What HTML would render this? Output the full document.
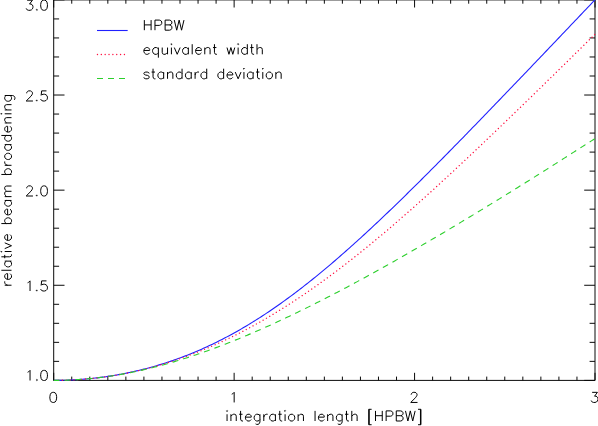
<!DOCTYPE html>
<html><head><meta charset="utf-8"><title>relative beam broadening</title>
<style>
html,body{margin:0;padding:0;background:#fff;font-family:"Liberation Sans",sans-serif;}
body{width:598px;height:426px;overflow:hidden;position:relative}
</style></head><body>
<svg width="598" height="426" viewBox="0 0 598 426" style="position:absolute;left:0;top:0;display:block">
<rect width="598" height="426" fill="#fff"/>
<path d="M53.7 -0.1 H595.0 V380.4 H53.7 Z M53.70 380.4 v-7.6 M53.70 -0.1 v7.6 M71.74 380.4 v-3.8 M71.74 -0.1 v3.8 M89.79 380.4 v-3.8 M89.79 -0.1 v3.8 M107.83 380.4 v-3.8 M107.83 -0.1 v3.8 M125.87 380.4 v-3.8 M125.87 -0.1 v3.8 M143.92 380.4 v-3.8 M143.92 -0.1 v3.8 M161.96 380.4 v-3.8 M161.96 -0.1 v3.8 M180.00 380.4 v-3.8 M180.00 -0.1 v3.8 M198.05 380.4 v-3.8 M198.05 -0.1 v3.8 M216.09 380.4 v-3.8 M216.09 -0.1 v3.8 M234.13 380.4 v-7.6 M234.13 -0.1 v7.6 M252.18 380.4 v-3.8 M252.18 -0.1 v3.8 M270.22 380.4 v-3.8 M270.22 -0.1 v3.8 M288.26 380.4 v-3.8 M288.26 -0.1 v3.8 M306.31 380.4 v-3.8 M306.31 -0.1 v3.8 M324.35 380.4 v-3.8 M324.35 -0.1 v3.8 M342.39 380.4 v-3.8 M342.39 -0.1 v3.8 M360.44 380.4 v-3.8 M360.44 -0.1 v3.8 M378.48 380.4 v-3.8 M378.48 -0.1 v3.8 M396.52 380.4 v-3.8 M396.52 -0.1 v3.8 M414.57 380.4 v-7.6 M414.57 -0.1 v7.6 M432.61 380.4 v-3.8 M432.61 -0.1 v3.8 M450.65 380.4 v-3.8 M450.65 -0.1 v3.8 M468.70 380.4 v-3.8 M468.70 -0.1 v3.8 M486.74 380.4 v-3.8 M486.74 -0.1 v3.8 M504.78 380.4 v-3.8 M504.78 -0.1 v3.8 M522.83 380.4 v-3.8 M522.83 -0.1 v3.8 M540.87 380.4 v-3.8 M540.87 -0.1 v3.8 M558.91 380.4 v-3.8 M558.91 -0.1 v3.8 M576.96 380.4 v-3.8 M576.96 -0.1 v3.8 M595.00 380.4 v-7.6 M595.00 -0.1 v7.6 M53.7 380.40 h10.8 M595.0 380.40 h-10.8 M53.7 361.37 h5.4 M595.0 361.37 h-5.4 M53.7 342.35 h5.4 M595.0 342.35 h-5.4 M53.7 323.32 h5.4 M595.0 323.32 h-5.4 M53.7 304.30 h5.4 M595.0 304.30 h-5.4 M53.7 285.27 h10.8 M595.0 285.27 h-10.8 M53.7 266.25 h5.4 M595.0 266.25 h-5.4 M53.7 247.22 h5.4 M595.0 247.22 h-5.4 M53.7 228.20 h5.4 M595.0 228.20 h-5.4 M53.7 209.17 h5.4 M595.0 209.17 h-5.4 M53.7 190.15 h10.8 M595.0 190.15 h-10.8 M53.7 171.12 h5.4 M595.0 171.12 h-5.4 M53.7 152.10 h5.4 M595.0 152.10 h-5.4 M53.7 133.08 h5.4 M595.0 133.08 h-5.4 M53.7 114.05 h5.4 M595.0 114.05 h-5.4 M53.7 95.02 h10.8 M595.0 95.02 h-10.8 M53.7 76.00 h5.4 M595.0 76.00 h-5.4 M53.7 56.97 h5.4 M595.0 56.97 h-5.4 M53.7 37.95 h5.4 M595.0 37.95 h-5.4 M53.7 18.93 h5.4 M595.0 18.93 h-5.4 M53.7 -0.10 h10.8 M595.0 -0.10 h-10.8" fill="none" stroke="#0a0a0a" stroke-width="1.0" stroke-linecap="butt" stroke-linejoin="miter"/>
<clipPath id="c"><rect x="53.7" y="-1.1" width="541.9" height="382.1"/></clipPath>
<g fill="none" clip-path="url(#c)">
<path d="M53.70 380.40 L55.50 380.40 L57.31 380.38 L59.11 380.36 L60.92 380.33 L62.72 380.29 L64.53 380.24 L66.33 380.18 L68.13 380.12 L69.94 380.04 L71.74 379.96 L73.55 379.87 L75.35 379.77 L77.16 379.66 L78.96 379.54 L80.77 379.41 L82.57 379.27 L84.37 379.13 L86.18 378.97 L87.98 378.81 L89.79 378.63 L91.59 378.45 L93.40 378.26 L95.20 378.06 L97.00 377.85 L98.81 377.64 L100.61 377.41 L102.42 377.17 L104.22 376.93 L106.03 376.67 L107.83 376.41 L109.63 376.14 L111.44 375.85 L113.24 375.56 L115.05 375.26 L116.85 374.95 L118.66 374.63 L120.46 374.30 L122.26 373.97 L124.07 373.62 L125.87 373.26 L127.68 372.89 L129.48 372.52 L131.29 372.13 L133.09 371.73 L134.89 371.33 L136.70 370.91 L138.50 370.49 L140.31 370.05 L142.11 369.61 L143.92 369.15 L145.72 368.69 L147.53 368.21 L149.33 367.73 L151.13 367.23 L152.94 366.73 L154.74 366.21 L156.55 365.69 L158.35 365.15 L160.16 364.61 L161.96 364.05 L163.76 363.49 L165.57 362.91 L167.37 362.32 L169.18 361.72 L170.98 361.12 L172.79 360.50 L174.59 359.87 L176.39 359.23 L178.20 358.58 L180.00 357.92 L181.81 357.25 L183.61 356.56 L185.42 355.87 L187.22 355.16 L189.02 354.45 L190.83 353.72 L192.63 352.99 L194.44 352.24 L196.24 351.48 L198.05 350.71 L199.85 349.93 L201.66 349.14 L203.46 348.33 L205.26 347.52 L207.07 346.69 L208.87 345.85 L210.68 345.01 L212.48 344.15 L214.29 343.28 L216.09 342.40 L217.89 341.50 L219.70 340.60 L221.50 339.68 L223.31 338.76 L225.11 337.82 L226.92 336.87 L228.72 335.91 L230.52 334.94 L232.33 333.95 L234.13 332.96 L235.94 331.95 L237.74 330.93 L239.55 329.91 L241.35 328.87 L243.16 327.82 L244.96 326.75 L246.76 325.68 L248.57 324.60 L250.37 323.50 L252.18 322.39 L253.98 321.28 L255.79 320.15 L257.59 319.01 L259.39 317.86 L261.20 316.70 L263.00 315.52 L264.81 314.34 L266.61 313.15 L268.42 311.94 L270.22 310.72 L272.02 309.50 L273.83 308.26 L275.63 307.01 L277.44 305.76 L279.24 304.49 L281.05 303.21 L282.85 301.92 L284.65 300.62 L286.46 299.31 L288.26 297.99 L290.07 296.67 L291.87 295.33 L293.68 293.98 L295.48 292.62 L297.29 291.25 L299.09 289.87 L300.89 288.49 L302.70 287.09 L304.50 285.69 L306.31 284.27 L308.11 282.85 L309.92 281.41 L311.72 279.97 L313.52 278.52 L315.33 277.06 L317.13 275.59 L318.94 274.12 L320.74 272.63 L322.55 271.14 L324.35 269.64 L326.15 268.13 L327.96 266.61 L329.76 265.09 L331.57 263.55 L333.37 262.01 L335.18 260.46 L336.98 258.91 L338.78 257.34 L340.59 255.77 L342.39 254.20 L344.20 252.61 L346.00 251.02 L347.81 249.42 L349.61 247.82 L351.41 246.21 L353.22 244.59 L355.02 242.96 L356.83 241.33 L358.63 239.69 L360.44 238.05 L362.24 236.40 L364.05 234.75 L365.85 233.08 L367.65 231.42 L369.46 229.75 L371.26 228.07 L373.07 226.38 L374.87 224.70 L376.68 223.00 L378.48 221.30 L380.28 219.60 L382.09 217.89 L383.89 216.18 L385.70 214.46 L387.50 212.74 L389.31 211.01 L391.11 209.28 L392.91 207.54 L394.72 205.80 L396.52 204.06 L398.33 202.31 L400.13 200.55 L401.94 198.80 L403.74 197.04 L405.54 195.27 L407.35 193.50 L409.15 191.73 L410.96 189.96 L412.76 188.18 L414.57 186.40 L416.37 184.61 L418.18 182.82 L419.98 181.03 L421.78 179.24 L423.59 177.44 L425.39 175.64 L427.20 173.84 L429.00 172.03 L430.81 170.22 L432.61 168.41 L434.41 166.59 L436.22 164.78 L438.02 162.96 L439.83 161.14 L441.63 159.31 L443.44 157.49 L445.24 155.66 L447.04 153.83 L448.85 151.99 L450.65 150.16 L452.46 148.32 L454.26 146.48 L456.07 144.64 L457.87 142.80 L459.67 140.95 L461.48 139.11 L463.28 137.26 L465.09 135.41 L466.89 133.56 L468.70 131.70 L470.50 129.85 L472.31 127.99 L474.11 126.14 L475.91 124.28 L477.72 122.42 L479.52 120.55 L481.33 118.69 L483.13 116.83 L484.94 114.96 L486.74 113.09 L488.54 111.23 L490.35 109.36 L492.15 107.49 L493.96 105.62 L495.76 103.74 L497.57 101.87 L499.37 100.00 L501.17 98.12 L502.98 96.24 L504.78 94.37 L506.59 92.49 L508.39 90.61 L510.20 88.73 L512.00 86.85 L513.81 84.97 L515.61 83.09 L517.41 81.21 L519.22 79.32 L521.02 77.44 L522.83 75.55 L524.63 73.67 L526.44 71.78 L528.24 69.90 L530.04 68.01 L531.85 66.12 L533.65 64.23 L535.46 62.34 L537.26 60.46 L539.07 58.57 L540.87 56.68 L542.67 54.79 L544.48 52.89 L546.28 51.00 L548.09 49.11 L549.89 47.22 L551.70 45.33 L553.50 43.43 L555.30 41.54 L557.11 39.65 L558.91 37.75 L560.72 35.86 L562.52 33.96 L564.33 32.07 L566.13 30.17 L567.94 28.28 L569.74 26.38 L571.54 24.49 L573.35 22.59 L575.15 20.69 L576.96 18.80 L578.76 16.90 L580.57 15.00 L582.37 13.10 L584.17 11.21 L585.98 9.31 L587.78 7.41 L589.59 5.51 L591.39 3.61 L593.20 1.72 L595.00 -0.18" stroke="#2020ff" stroke-width="1.1"/>
<path d="M53.70 380.40 L55.50 380.40 L57.31 380.38 L59.11 380.36 L60.92 380.33 L62.72 380.29 L64.53 380.24 L66.33 380.18 L68.13 380.12 L69.94 380.04 L71.74 379.96 L73.55 379.87 L75.35 379.77 L77.16 379.66 L78.96 379.54 L80.77 379.41 L82.57 379.27 L84.37 379.13 L86.18 378.97 L87.98 378.81 L89.79 378.64 L91.59 378.46 L93.40 378.27 L95.20 378.07 L97.00 377.86 L98.81 377.65 L100.61 377.42 L102.42 377.19 L104.22 376.95 L106.03 376.70 L107.83 376.44 L109.63 376.17 L111.44 375.89 L113.24 375.60 L115.05 375.31 L116.85 375.00 L118.66 374.69 L120.46 374.36 L122.26 374.03 L124.07 373.69 L125.87 373.34 L127.68 372.98 L129.48 372.62 L131.29 372.24 L133.09 371.85 L134.89 371.46 L136.70 371.06 L138.50 370.64 L140.31 370.22 L142.11 369.79 L143.92 369.35 L145.72 368.90 L147.53 368.45 L149.33 367.98 L151.13 367.50 L152.94 367.02 L154.74 366.53 L156.55 366.02 L158.35 365.51 L160.16 364.99 L161.96 364.46 L163.76 363.92 L165.57 363.37 L167.37 362.82 L169.18 362.25 L170.98 361.67 L172.79 361.09 L174.59 360.50 L176.39 359.89 L178.20 359.28 L180.00 358.66 L181.81 358.03 L183.61 357.39 L185.42 356.74 L187.22 356.08 L189.02 355.42 L190.83 354.74 L192.63 354.06 L194.44 353.36 L196.24 352.66 L198.05 351.95 L199.85 351.22 L201.66 350.49 L203.46 349.75 L205.26 349.00 L207.07 348.25 L208.87 347.48 L210.68 346.70 L212.48 345.92 L214.29 345.12 L216.09 344.32 L217.89 343.51 L219.70 342.68 L221.50 341.85 L223.31 341.01 L225.11 340.16 L226.92 339.30 L228.72 338.44 L230.52 337.56 L232.33 336.68 L234.13 335.78 L235.94 334.88 L237.74 333.97 L239.55 333.04 L241.35 332.11 L243.16 331.17 L244.96 330.23 L246.76 329.27 L248.57 328.30 L250.37 327.33 L252.18 326.34 L253.98 325.35 L255.79 324.35 L257.59 323.34 L259.39 322.32 L261.20 321.29 L263.00 320.26 L264.81 319.21 L266.61 318.16 L268.42 317.10 L270.22 316.03 L272.02 314.95 L273.83 313.86 L275.63 312.76 L277.44 311.66 L279.24 310.54 L281.05 309.42 L282.85 308.29 L284.65 307.15 L286.46 306.01 L288.26 304.85 L290.07 303.69 L291.87 302.52 L293.68 301.34 L295.48 300.15 L297.29 298.95 L299.09 297.75 L300.89 296.54 L302.70 295.32 L304.50 294.09 L306.31 292.85 L308.11 291.61 L309.92 290.36 L311.72 289.10 L313.52 287.83 L315.33 286.56 L317.13 285.28 L318.94 283.99 L320.74 282.69 L322.55 281.39 L324.35 280.07 L326.15 278.76 L327.96 277.43 L329.76 276.10 L331.57 274.76 L333.37 273.41 L335.18 272.05 L336.98 270.69 L338.78 269.32 L340.59 267.95 L342.39 266.57 L344.20 265.18 L346.00 263.78 L347.81 262.38 L349.61 260.97 L351.41 259.56 L353.22 258.14 L355.02 256.71 L356.83 255.27 L358.63 253.83 L360.44 252.39 L362.24 250.93 L364.05 249.47 L365.85 248.01 L367.65 246.54 L369.46 245.06 L371.26 243.58 L373.07 242.09 L374.87 240.60 L376.68 239.10 L378.48 237.60 L380.28 236.09 L382.09 234.57 L383.89 233.05 L385.70 231.52 L387.50 229.99 L389.31 228.45 L391.11 226.91 L392.91 225.37 L394.72 223.82 L396.52 222.26 L398.33 220.70 L400.13 219.13 L401.94 217.56 L403.74 215.99 L405.54 214.41 L407.35 212.82 L409.15 211.24 L410.96 209.64 L412.76 208.05 L414.57 206.44 L416.37 204.84 L418.18 203.23 L419.98 201.62 L421.78 200.00 L423.59 198.38 L425.39 196.75 L427.20 195.13 L429.00 193.49 L430.81 191.86 L432.61 190.22 L434.41 188.57 L436.22 186.93 L438.02 185.28 L439.83 183.63 L441.63 181.97 L443.44 180.31 L445.24 178.65 L447.04 176.98 L448.85 175.31 L450.65 173.64 L452.46 171.97 L454.26 170.29 L456.07 168.61 L457.87 166.93 L459.67 165.24 L461.48 163.55 L463.28 161.86 L465.09 160.17 L466.89 158.47 L468.70 156.77 L470.50 155.07 L472.31 153.37 L474.11 151.67 L475.91 149.96 L477.72 148.25 L479.52 146.54 L481.33 144.82 L483.13 143.11 L484.94 141.39 L486.74 139.67 L488.54 137.95 L490.35 136.23 L492.15 134.50 L493.96 132.77 L495.76 131.04 L497.57 129.31 L499.37 127.58 L501.17 125.85 L502.98 124.11 L504.78 122.38 L506.59 120.64 L508.39 118.90 L510.20 117.16 L512.00 115.41 L513.81 113.67 L515.61 111.92 L517.41 110.18 L519.22 108.43 L521.02 106.68 L522.83 104.93 L524.63 103.18 L526.44 101.43 L528.24 99.67 L530.04 97.92 L531.85 96.16 L533.65 94.41 L535.46 92.65 L537.26 90.89 L539.07 89.13 L540.87 87.37 L542.67 85.61 L544.48 83.85 L546.28 82.08 L548.09 80.32 L549.89 78.56 L551.70 76.79 L553.50 75.02 L555.30 73.26 L557.11 71.49 L558.91 69.72 L560.72 67.95 L562.52 66.18 L564.33 64.41 L566.13 62.64 L567.94 60.87 L569.74 59.10 L571.54 57.33 L573.35 55.55 L575.15 53.78 L576.96 52.01 L578.76 50.23 L580.57 48.46 L582.37 46.68 L584.17 44.91 L585.98 43.13 L587.78 41.35 L589.59 39.58 L591.39 37.80 L593.20 36.02 L595.00 34.25" stroke="#ff1040" stroke-width="1.35" stroke-dasharray="0.05 3.8" stroke-linecap="round" stroke-dashoffset="-1.0"/>
<path d="M53.70 380.40 L55.50 380.40 L57.31 380.38 L59.11 380.36 L60.92 380.33 L62.72 380.29 L64.53 380.24 L66.33 380.18 L68.13 380.12 L69.94 380.04 L71.74 379.96 L73.55 379.87 L75.35 379.77 L77.16 379.66 L78.96 379.54 L80.77 379.41 L82.57 379.28 L84.37 379.13 L86.18 378.98 L87.98 378.82 L89.79 378.65 L91.59 378.47 L93.40 378.28 L95.20 378.09 L97.00 377.88 L98.81 377.67 L100.61 377.45 L102.42 377.22 L104.22 376.98 L106.03 376.74 L107.83 376.48 L109.63 376.22 L111.44 375.95 L113.24 375.67 L115.05 375.38 L116.85 375.09 L118.66 374.79 L120.46 374.47 L122.26 374.16 L124.07 373.83 L125.87 373.49 L127.68 373.15 L129.48 372.80 L131.29 372.44 L133.09 372.07 L134.89 371.70 L136.70 371.32 L138.50 370.93 L140.31 370.53 L142.11 370.12 L143.92 369.71 L145.72 369.29 L147.53 368.86 L149.33 368.43 L151.13 367.99 L152.94 367.54 L154.74 367.08 L156.55 366.62 L158.35 366.15 L160.16 365.67 L161.96 365.18 L163.76 364.69 L165.57 364.19 L167.37 363.69 L169.18 363.17 L170.98 362.66 L172.79 362.13 L174.59 361.60 L176.39 361.06 L178.20 360.51 L180.00 359.96 L181.81 359.40 L183.61 358.83 L185.42 358.26 L187.22 357.69 L189.02 357.10 L190.83 356.51 L192.63 355.91 L194.44 355.31 L196.24 354.70 L198.05 354.09 L199.85 353.47 L201.66 352.84 L203.46 352.21 L205.26 351.57 L207.07 350.92 L208.87 350.27 L210.68 349.62 L212.48 348.96 L214.29 348.29 L216.09 347.62 L217.89 346.94 L219.70 346.26 L221.50 345.57 L223.31 344.88 L225.11 344.18 L226.92 343.47 L228.72 342.76 L230.52 342.05 L232.33 341.33 L234.13 340.60 L235.94 339.88 L237.74 339.14 L239.55 338.40 L241.35 337.66 L243.16 336.91 L244.96 336.15 L246.76 335.40 L248.57 334.63 L250.37 333.87 L252.18 333.09 L253.98 332.32 L255.79 331.54 L257.59 330.75 L259.39 329.96 L261.20 329.17 L263.00 328.37 L264.81 327.56 L266.61 326.76 L268.42 325.95 L270.22 325.13 L272.02 324.31 L273.83 323.49 L275.63 322.66 L277.44 321.83 L279.24 320.99 L281.05 320.15 L282.85 319.31 L284.65 318.46 L286.46 317.61 L288.26 316.76 L290.07 315.90 L291.87 315.04 L293.68 314.17 L295.48 313.30 L297.29 312.43 L299.09 311.55 L300.89 310.67 L302.70 309.79 L304.50 308.90 L306.31 308.01 L308.11 307.12 L309.92 306.22 L311.72 305.32 L313.52 304.42 L315.33 303.52 L317.13 302.61 L318.94 301.69 L320.74 300.78 L322.55 299.86 L324.35 298.94 L326.15 298.01 L327.96 297.08 L329.76 296.15 L331.57 295.22 L333.37 294.28 L335.18 293.34 L336.98 292.40 L338.78 291.46 L340.59 290.51 L342.39 289.56 L344.20 288.60 L346.00 287.65 L347.81 286.69 L349.61 285.73 L351.41 284.76 L353.22 283.80 L355.02 282.83 L356.83 281.86 L358.63 280.88 L360.44 279.91 L362.24 278.93 L364.05 277.94 L365.85 276.96 L367.65 275.97 L369.46 274.99 L371.26 273.99 L373.07 273.00 L374.87 272.01 L376.68 271.01 L378.48 270.01 L380.28 269.00 L382.09 268.00 L383.89 266.99 L385.70 265.98 L387.50 264.97 L389.31 263.96 L391.11 262.94 L392.91 261.93 L394.72 260.91 L396.52 259.89 L398.33 258.86 L400.13 257.84 L401.94 256.81 L403.74 255.78 L405.54 254.75 L407.35 253.71 L409.15 252.68 L410.96 251.64 L412.76 250.60 L414.57 249.56 L416.37 248.52 L418.18 247.47 L419.98 246.43 L421.78 245.38 L423.59 244.33 L425.39 243.28 L427.20 242.23 L429.00 241.17 L430.81 240.11 L432.61 239.05 L434.41 237.99 L436.22 236.93 L438.02 235.87 L439.83 234.80 L441.63 233.74 L443.44 232.67 L445.24 231.60 L447.04 230.53 L448.85 229.46 L450.65 228.38 L452.46 227.31 L454.26 226.23 L456.07 225.15 L457.87 224.07 L459.67 222.99 L461.48 221.90 L463.28 220.82 L465.09 219.73 L466.89 218.65 L468.70 217.56 L470.50 216.47 L472.31 215.38 L474.11 214.28 L475.91 213.19 L477.72 212.09 L479.52 211.00 L481.33 209.90 L483.13 208.80 L484.94 207.70 L486.74 206.60 L488.54 205.49 L490.35 204.39 L492.15 203.28 L493.96 202.18 L495.76 201.07 L497.57 199.96 L499.37 198.85 L501.17 197.74 L502.98 196.62 L504.78 195.51 L506.59 194.39 L508.39 193.28 L510.20 192.16 L512.00 191.04 L513.81 189.92 L515.61 188.80 L517.41 187.68 L519.22 186.56 L521.02 185.43 L522.83 184.31 L524.63 183.18 L526.44 182.05 L528.24 180.93 L530.04 179.80 L531.85 178.67 L533.65 177.54 L535.46 176.40 L537.26 175.27 L539.07 174.14 L540.87 173.00 L542.67 171.86 L544.48 170.73 L546.28 169.59 L548.09 168.45 L549.89 167.31 L551.70 166.17 L553.50 165.03 L555.30 163.89 L557.11 162.74 L558.91 161.60 L560.72 160.45 L562.52 159.31 L564.33 158.16 L566.13 157.01 L567.94 155.86 L569.74 154.71 L571.54 153.56 L573.35 152.41 L575.15 151.26 L576.96 150.11 L578.76 148.95 L580.57 147.80 L582.37 146.64 L584.17 145.49 L585.98 144.33 L587.78 143.17 L589.59 142.01 L591.39 140.85 L593.20 139.69 L595.00 138.53" stroke="#2ccf2c" stroke-width="1.1" stroke-dasharray="6 5" stroke-dashoffset="0.25"/>
</g>
<path d="M97.00 30.5 H127.68" stroke="#2020ff" stroke-width="1.1" fill="none"/>
<path d="M97.45 54.5 H127.68" stroke="#ff1040" stroke-width="1.35" stroke-dasharray="0.05 3.8" stroke-linecap="round" fill="none"/>
<path d="M97.00 78.5 H127.68" stroke="#2ccf2c" stroke-width="1.1" stroke-dasharray="6 5" fill="none"/>
<path d="M144.33 20.09 L144.33 30.20 M151.10 20.09 L151.10 30.20 M144.33 24.90 L151.10 24.90 M154.97 20.09 L154.97 30.20 M154.97 20.09 L159.32 20.09 L160.77 20.57 L161.26 21.05 L161.74 22.01 L161.74 23.46 L161.26 24.42 L160.77 24.90 L159.32 25.38 L154.97 25.38 M165.12 20.09 L165.12 30.20 M165.12 20.09 L169.48 20.09 L170.93 20.57 L171.41 21.05 L171.89 22.01 L171.89 22.98 L171.41 23.94 L170.93 24.42 L169.48 24.90 M165.12 24.90 L169.48 24.90 L170.93 25.38 L171.41 25.87 L171.89 26.83 L171.89 28.27 L171.41 29.24 L170.93 29.72 L169.48 30.20 L165.12 30.20 M174.31 20.09 L176.73 30.20 M179.15 20.09 L176.73 30.20 M179.15 20.09 L181.56 30.20 M183.98 20.09 L181.56 30.20 M143.85 50.45 L149.65 50.45 L149.65 49.48 L149.17 48.52 L148.69 48.04 L147.72 47.56 L146.27 47.56 L145.30 48.04 L144.33 49.00 L143.85 50.45 L143.85 51.41 L144.33 52.86 L145.30 53.82 L146.27 54.30 L147.72 54.30 L148.69 53.82 L149.65 52.86 M158.36 47.56 L158.36 57.67 M158.36 49.00 L157.39 48.04 L156.42 47.56 L154.97 47.56 L154.00 48.04 L153.04 49.00 L152.55 50.45 L152.55 51.41 L153.04 52.86 L154.00 53.82 L154.97 54.30 L156.42 54.30 L157.39 53.82 L158.36 52.86 M162.22 47.56 L162.22 52.37 L162.71 53.82 L163.67 54.30 L165.12 54.30 L166.09 53.82 L167.54 52.37 M167.54 47.56 L167.54 54.30 M171.41 47.56 L171.41 54.30 M174.31 47.56 L177.21 54.30 M180.11 47.56 L177.21 54.30 M188.33 47.56 L188.33 54.30 M188.33 49.00 L187.37 48.04 L186.40 47.56 L184.95 47.56 L183.98 48.04 L183.01 49.00 L182.53 50.45 L182.53 51.41 L183.01 52.86 L183.98 53.82 L184.95 54.30 L186.40 54.30 L187.37 53.82 L188.33 52.86 M192.20 44.19 L192.20 54.30 M195.59 50.45 L201.39 50.45 L201.39 49.48 L200.90 48.52 L200.42 48.04 L199.45 47.56 L198.00 47.56 L197.04 48.04 L196.07 49.00 L195.59 50.45 L195.59 51.41 L196.07 52.86 L197.04 53.82 L198.00 54.30 L199.45 54.30 L200.42 53.82 L201.39 52.86 M204.77 47.56 L204.77 54.30 M204.77 49.48 L206.22 48.04 L207.19 47.56 L208.64 47.56 L209.61 48.04 L210.09 49.48 L210.09 54.30 M214.44 44.19 L214.44 52.37 L214.93 53.82 L215.89 54.30 L216.86 54.30 M212.99 47.56 L216.38 47.56 M227.01 47.56 L228.95 54.30 M230.88 47.56 L228.95 54.30 M230.88 47.56 L232.81 54.30 M234.75 47.56 L232.81 54.30 M238.13 47.56 L238.13 54.30 M247.32 44.19 L247.32 54.30 M247.32 49.00 L246.35 48.04 L245.39 47.56 L243.94 47.56 L242.97 48.04 L242.00 49.00 L241.52 50.45 L241.52 51.41 L242.00 52.86 L242.97 53.82 L243.94 54.30 L245.39 54.30 L246.35 53.82 L247.32 52.86 M251.67 44.19 L251.67 52.37 L252.15 53.82 L253.12 54.30 L254.09 54.30 M250.22 47.56 L253.60 47.56 M256.99 44.19 L256.99 54.30 M256.99 49.48 L258.44 48.04 L259.41 47.56 L260.86 47.56 L261.82 48.04 L262.31 49.48 L262.31 54.30 M149.17 73.50 L148.69 72.54 L147.24 72.06 L145.78 72.06 L144.33 72.54 L143.85 73.50 L144.33 74.47 L145.30 74.95 L147.72 75.43 L148.69 75.91 L149.17 76.87 L149.17 77.36 L148.69 78.32 L147.24 78.80 L145.78 78.80 L144.33 78.32 L143.85 77.36 M153.04 68.69 L153.04 76.87 L153.52 78.32 L154.49 78.80 L155.45 78.80 M151.59 72.06 L154.97 72.06 M163.67 72.06 L163.67 78.80 M163.67 73.50 L162.71 72.54 L161.74 72.06 L160.29 72.06 L159.32 72.54 L158.36 73.50 L157.87 74.95 L157.87 75.91 L158.36 77.36 L159.32 78.32 L160.29 78.80 L161.74 78.80 L162.71 78.32 L163.67 77.36 M167.54 72.06 L167.54 78.80 M167.54 73.98 L168.99 72.54 L169.96 72.06 L171.41 72.06 L172.38 72.54 L172.86 73.98 L172.86 78.80 M182.05 68.69 L182.05 78.80 M182.05 73.50 L181.08 72.54 L180.11 72.06 L178.66 72.06 L177.70 72.54 L176.73 73.50 L176.25 74.95 L176.25 75.91 L176.73 77.36 L177.70 78.32 L178.66 78.80 L180.11 78.80 L181.08 78.32 L182.05 77.36 M191.23 72.06 L191.23 78.80 M191.23 73.50 L190.27 72.54 L189.30 72.06 L187.85 72.06 L186.88 72.54 L185.92 73.50 L185.43 74.95 L185.43 75.91 L185.92 77.36 L186.88 78.32 L187.85 78.80 L189.30 78.80 L190.27 78.32 L191.23 77.36 M195.10 72.06 L195.10 78.80 M195.10 74.95 L195.59 73.50 L196.55 72.54 L197.52 72.06 L198.97 72.06 M206.71 68.69 L206.71 78.80 M206.71 73.50 L205.74 72.54 L204.77 72.06 L203.32 72.06 L202.35 72.54 L201.39 73.50 L200.90 74.95 L200.90 75.91 L201.39 77.36 L202.35 78.32 L203.32 78.80 L204.77 78.80 L205.74 78.32 L206.71 77.36 M223.63 68.69 L223.63 78.80 M223.63 73.50 L222.66 72.54 L221.69 72.06 L220.24 72.06 L219.28 72.54 L218.31 73.50 L217.83 74.95 L217.83 75.91 L218.31 77.36 L219.28 78.32 L220.24 78.80 L221.69 78.80 L222.66 78.32 L223.63 77.36 M227.01 74.95 L232.81 74.95 L232.81 73.98 L232.33 73.02 L231.85 72.54 L230.88 72.06 L229.43 72.06 L228.46 72.54 L227.50 73.50 L227.01 74.95 L227.01 75.91 L227.50 77.36 L228.46 78.32 L229.43 78.80 L230.88 78.80 L231.85 78.32 L232.81 77.36 M235.23 72.06 L238.13 78.80 M241.03 72.06 L238.13 78.80 M243.94 72.06 L243.94 78.80 M253.12 72.06 L253.12 78.80 M253.12 73.50 L252.15 72.54 L251.19 72.06 L249.74 72.06 L248.77 72.54 L247.80 73.50 L247.32 74.95 L247.32 75.91 L247.80 77.36 L248.77 78.32 L249.74 78.80 L251.19 78.80 L252.15 78.32 L253.12 77.36 M257.47 68.69 L257.47 76.87 L257.96 78.32 L258.92 78.80 L259.89 78.80 M256.02 72.06 L259.41 72.06 M262.79 72.06 L262.79 78.80 M268.59 72.06 L267.63 72.54 L266.66 73.50 L266.18 74.95 L266.18 75.91 L266.66 77.36 L267.63 78.32 L268.59 78.80 L270.04 78.80 L271.01 78.32 L271.98 77.36 L272.46 75.91 L272.46 74.95 L271.98 73.50 L271.01 72.54 L270.04 72.06 L268.59 72.06 M275.85 72.06 L275.85 78.80 M275.85 73.98 L277.30 72.54 L278.26 72.06 L279.71 72.06 L280.68 72.54 L281.16 73.98 L281.16 78.80 M27.63 372.31 L28.59 371.83 L30.04 370.39 L30.04 380.50 M43.58 370.39 L42.13 370.87 L41.16 372.31 L40.68 374.72 L40.68 376.17 L41.16 378.57 L42.13 380.02 L43.58 380.50 L44.55 380.50 L46.00 380.02 L46.97 378.57 L47.45 376.17 L47.45 374.72 L46.97 372.31 L46.00 370.87 L44.55 370.39 L43.58 370.39 M27.63 282.81 L28.59 282.33 L30.04 280.89 L30.04 291.00 M46.48 280.89 L41.65 280.89 L41.16 285.22 L41.65 284.74 L43.10 284.26 L44.55 284.26 L46.00 284.74 L46.97 285.70 L47.45 287.15 L47.45 288.11 L46.97 289.56 L46.00 290.52 L44.55 291.00 L43.10 291.00 L41.65 290.52 L41.16 290.04 L40.68 289.07 M26.66 188.30 L26.66 187.81 L27.14 186.85 L27.63 186.37 L28.59 185.89 L30.53 185.89 L31.49 186.37 L31.98 186.85 L32.46 187.81 L32.46 188.78 L31.98 189.74 L31.01 191.19 L26.18 196.00 L32.94 196.00 M43.58 185.89 L42.13 186.37 L41.16 187.81 L40.68 190.22 L40.68 191.67 L41.16 194.07 L42.13 195.52 L43.58 196.00 L44.55 196.00 L46.00 195.52 L46.97 194.07 L47.45 191.67 L47.45 190.22 L46.97 187.81 L46.00 186.37 L44.55 185.89 L43.58 185.89 M26.66 93.30 L26.66 92.81 L27.14 91.85 L27.63 91.37 L28.59 90.89 L30.53 90.89 L31.49 91.37 L31.98 91.85 L32.46 92.81 L32.46 93.78 L31.98 94.74 L31.01 96.19 L26.18 101.00 L32.94 101.00 M46.48 90.89 L41.65 90.89 L41.16 95.22 L41.65 94.74 L43.10 94.26 L44.55 94.26 L46.00 94.74 L46.97 95.70 L47.45 97.15 L47.45 98.11 L46.97 99.56 L46.00 100.52 L44.55 101.00 L43.10 101.00 L41.65 100.52 L41.16 100.04 L40.68 99.07 M27.14 0.19 L32.46 0.19 L29.56 4.04 L31.01 4.04 L31.98 4.52 L32.46 5.00 L32.94 6.45 L32.94 7.41 L32.46 8.86 L31.49 9.82 L30.04 10.30 L28.59 10.30 L27.14 9.82 L26.66 9.34 L26.18 8.37 M43.58 0.19 L42.13 0.67 L41.16 2.11 L40.68 4.52 L40.68 5.97 L41.16 8.37 L42.13 9.82 L43.58 10.30 L44.55 10.30 L46.00 9.82 L46.97 8.37 L47.45 5.97 L47.45 4.52 L46.97 2.11 L46.00 0.67 L44.55 0.19 L43.58 0.19 M52.77 392.34 L51.32 392.82 L50.35 394.26 L49.87 396.67 L49.87 398.12 L50.35 400.52 L51.32 401.97 L52.77 402.45 L53.73 402.45 L55.18 401.97 L56.15 400.52 L56.63 398.12 L56.63 396.67 L56.15 394.26 L55.18 392.82 L53.73 392.34 L52.77 392.34 M231.75 394.26 L232.72 393.78 L234.17 392.34 L234.17 402.45 M411.22 394.75 L411.22 394.26 L411.70 393.30 L412.18 392.82 L413.15 392.34 L415.08 392.34 L416.05 392.82 L416.53 393.30 L417.02 394.26 L417.02 395.23 L416.53 396.19 L415.57 397.63 L410.73 402.45 L417.50 402.45 M592.13 392.34 L597.45 392.34 L594.55 396.19 L596.00 396.19 L596.97 396.67 L597.45 397.15 L597.93 398.60 L597.93 399.56 L597.45 401.01 L596.48 401.97 L595.03 402.45 L593.58 402.45 L592.13 401.97 L591.65 401.49 L591.17 400.52 M227.06 414.26 L227.06 421.00 M230.93 414.26 L230.93 421.00 M230.93 416.19 L232.38 414.74 L233.34 414.26 L234.79 414.26 L235.76 414.74 L236.24 416.19 L236.24 421.00 M240.60 410.89 L240.60 419.07 L241.08 420.52 L242.05 421.00 L243.01 421.00 M239.15 414.26 L242.53 414.26 M245.43 417.15 L251.23 417.15 L251.23 416.19 L250.75 415.22 L250.27 414.74 L249.30 414.26 L247.85 414.26 L246.88 414.74 L245.91 415.70 L245.43 417.15 L245.43 418.11 L245.91 419.56 L246.88 420.52 L247.85 421.00 L249.30 421.00 L250.27 420.52 L251.23 419.56 M259.94 414.26 L259.94 421.96 L259.45 423.41 L258.97 423.89 L258.00 424.37 L256.55 424.37 L255.58 423.89 M259.94 415.70 L258.97 414.74 L258.00 414.26 L256.55 414.26 L255.58 414.74 L254.62 415.70 L254.13 417.15 L254.13 418.11 L254.62 419.56 L255.58 420.52 L256.55 421.00 L258.00 421.00 L258.97 420.52 L259.94 419.56 M263.80 414.26 L263.80 421.00 M263.80 417.15 L264.29 415.70 L265.25 414.74 L266.22 414.26 L267.67 414.26 M275.41 414.26 L275.41 421.00 M275.41 415.70 L274.44 414.74 L273.47 414.26 L272.02 414.26 L271.06 414.74 L270.09 415.70 L269.61 417.15 L269.61 418.11 L270.09 419.56 L271.06 420.52 L272.02 421.00 L273.47 421.00 L274.44 420.52 L275.41 419.56 M279.76 410.89 L279.76 419.07 L280.24 420.52 L281.21 421.00 L282.18 421.00 M278.31 414.26 L281.69 414.26 M285.08 414.26 L285.08 421.00 M290.88 414.26 L289.91 414.74 L288.95 415.70 L288.46 417.15 L288.46 418.11 L288.95 419.56 L289.91 420.52 L290.88 421.00 L292.33 421.00 L293.30 420.52 L294.26 419.56 L294.75 418.11 L294.75 417.15 L294.26 415.70 L293.30 414.74 L292.33 414.26 L290.88 414.26 M298.13 414.26 L298.13 421.00 M298.13 416.19 L299.58 414.74 L300.55 414.26 L302.00 414.26 L302.97 414.74 L303.45 416.19 L303.45 421.00 M315.06 410.89 L315.06 421.00 M318.44 417.15 L324.24 417.15 L324.24 416.19 L323.76 415.22 L323.27 414.74 L322.31 414.26 L320.86 414.26 L319.89 414.74 L318.92 415.70 L318.44 417.15 L318.44 418.11 L318.92 419.56 L319.89 420.52 L320.86 421.00 L322.31 421.00 L323.27 420.52 L324.24 419.56 M327.63 414.26 L327.63 421.00 M327.63 416.19 L329.08 414.74 L330.04 414.26 L331.49 414.26 L332.46 414.74 L332.94 416.19 L332.94 421.00 M342.13 414.26 L342.13 421.96 L341.65 423.41 L341.16 423.89 L340.20 424.37 L338.75 424.37 L337.78 423.89 M342.13 415.70 L341.16 414.74 L340.20 414.26 L338.75 414.26 L337.78 414.74 L336.81 415.70 L336.33 417.15 L336.33 418.11 L336.81 419.56 L337.78 420.52 L338.75 421.00 L340.20 421.00 L341.16 420.52 L342.13 419.56 M346.48 410.89 L346.48 419.07 L346.97 420.52 L347.93 421.00 L348.90 421.00 M345.03 414.26 L348.42 414.26 M351.80 410.89 L351.80 421.00 M351.80 416.19 L353.25 414.74 L354.22 414.26 L355.67 414.26 L356.64 414.74 L357.12 416.19 L357.12 421.00 M368.72 409.30 L368.72 424.71 M369.21 409.30 L369.21 424.71 M368.72 409.30 L371.62 409.30 M368.72 424.71 L371.62 424.71 M375.49 410.89 L375.49 421.00 M382.26 410.89 L382.26 421.00 M375.49 415.70 L382.26 415.70 M386.13 410.89 L386.13 421.00 M386.13 410.89 L390.48 410.89 L391.93 411.37 L392.42 411.85 L392.90 412.81 L392.90 414.26 L392.42 415.22 L391.93 415.70 L390.48 416.19 L386.13 416.19 M396.28 410.89 L396.28 421.00 M396.28 410.89 L400.63 410.89 L402.09 411.37 L402.57 411.85 L403.05 412.81 L403.05 413.78 L402.57 414.74 L402.09 415.22 L400.63 415.70 M396.28 415.70 L400.63 415.70 L402.09 416.19 L402.57 416.67 L403.05 417.63 L403.05 419.07 L402.57 420.04 L402.09 420.52 L400.63 421.00 L396.28 421.00 M405.47 410.89 L407.89 421.00 M410.30 410.89 L407.89 421.00 M410.30 410.89 L412.72 421.00 M415.14 410.89 L412.72 421.00 M420.46 409.30 L420.46 424.71 M420.94 409.30 L420.94 424.71 M418.04 409.30 L420.94 409.30 M418.04 424.71 L420.94 424.71 M4.73 285.21 L11.50 285.21 M7.63 285.21 L6.18 284.72 L5.21 283.76 L4.73 282.80 L4.73 281.35 M7.63 279.43 L7.63 273.65 L6.67 273.65 L5.70 274.13 L5.21 274.61 L4.73 275.58 L4.73 277.02 L5.21 277.98 L6.18 278.95 L7.63 279.43 L8.60 279.43 L10.05 278.95 L11.02 277.98 L11.50 277.02 L11.50 275.58 L11.02 274.61 L10.05 273.65 M1.35 270.28 L11.50 270.28 M4.73 261.13 L11.50 261.13 M6.18 261.13 L5.21 262.09 L4.73 263.06 L4.73 264.50 L5.21 265.46 L6.18 266.43 L7.63 266.91 L8.60 266.91 L10.05 266.43 L11.02 265.46 L11.50 264.50 L11.50 263.06 L11.02 262.09 L10.05 261.13 M1.35 256.80 L9.57 256.80 L11.02 256.32 L11.50 255.35 L11.50 254.39 M4.73 258.24 L4.73 254.87 M4.73 251.50 L11.50 251.50 M4.73 248.61 L11.50 245.72 M4.73 242.83 L11.50 245.72 M7.63 240.43 L7.63 234.65 L6.67 234.65 L5.70 235.13 L5.21 235.61 L4.73 236.57 L4.73 238.02 L5.21 238.98 L6.18 239.94 L7.63 240.43 L8.60 240.43 L10.05 239.94 L11.02 238.98 L11.50 238.02 L11.50 236.57 L11.02 235.61 L10.05 234.65 M1.35 223.57 L11.50 223.57 M6.18 223.57 L5.21 222.61 L4.73 221.65 L4.73 220.20 L5.21 219.24 L6.18 218.28 L7.63 217.80 L8.60 217.80 L10.05 218.28 L11.02 219.24 L11.50 220.20 L11.50 221.65 L11.02 222.61 L10.05 223.57 M7.63 214.91 L7.63 209.13 L6.67 209.13 L5.70 209.61 L5.21 210.09 L4.73 211.05 L4.73 212.50 L5.21 213.46 L6.18 214.42 L7.63 214.91 L8.60 214.91 L10.05 214.42 L11.02 213.46 L11.50 212.50 L11.50 211.05 L11.02 210.09 L10.05 209.13 M4.73 200.46 L11.50 200.46 M6.18 200.46 L5.21 201.42 L4.73 202.39 L4.73 203.83 L5.21 204.79 L6.18 205.76 L7.63 206.24 L8.60 206.24 L10.05 205.76 L11.02 204.79 L11.50 203.83 L11.50 202.39 L11.02 201.42 L10.05 200.46 M4.73 196.61 L11.50 196.61 M6.67 196.61 L5.21 195.16 L4.73 194.20 L4.73 192.76 L5.21 191.79 L6.67 191.31 L11.50 191.31 M6.67 191.31 L5.21 189.87 L4.73 188.91 L4.73 187.46 L5.21 186.50 L6.67 186.02 L11.50 186.02 M1.35 174.46 L11.50 174.46 M6.18 174.46 L5.21 173.50 L4.73 172.53 L4.73 171.09 L5.21 170.13 L6.18 169.16 L7.63 168.68 L8.60 168.68 L10.05 169.16 L11.02 170.13 L11.50 171.09 L11.50 172.53 L11.02 173.50 L10.05 174.46 M4.73 165.31 L11.50 165.31 M7.63 165.31 L6.18 164.83 L5.21 163.87 L4.73 162.90 L4.73 161.46 M4.73 157.13 L5.21 158.09 L6.18 159.05 L7.63 159.53 L8.60 159.53 L10.05 159.05 L11.02 158.09 L11.50 157.13 L11.50 155.68 L11.02 154.72 L10.05 153.76 L8.60 153.27 L7.63 153.27 L6.18 153.76 L5.21 154.72 L4.73 155.68 L4.73 157.13 M4.73 144.61 L11.50 144.61 M6.18 144.61 L5.21 145.57 L4.73 146.53 L4.73 147.98 L5.21 148.94 L6.18 149.90 L7.63 150.39 L8.60 150.39 L10.05 149.90 L11.02 148.94 L11.50 147.98 L11.50 146.53 L11.02 145.57 L10.05 144.61 M1.35 135.46 L11.50 135.46 M6.18 135.46 L5.21 136.42 L4.73 137.38 L4.73 138.83 L5.21 139.79 L6.18 140.76 L7.63 141.24 L8.60 141.24 L10.05 140.76 L11.02 139.79 L11.50 138.83 L11.50 137.38 L11.02 136.42 L10.05 135.46 M7.63 132.09 L7.63 126.31 L6.67 126.31 L5.70 126.79 L5.21 127.27 L4.73 128.24 L4.73 129.68 L5.21 130.64 L6.18 131.61 L7.63 132.09 L8.60 132.09 L10.05 131.61 L11.02 130.64 L11.50 129.68 L11.50 128.24 L11.02 127.27 L10.05 126.31 M4.73 122.94 L11.50 122.94 M6.67 122.94 L5.21 121.50 L4.73 120.53 L4.73 119.09 L5.21 118.12 L6.67 117.64 L11.50 117.64 M4.73 113.79 L11.50 113.79 M4.73 109.94 L11.50 109.94 M6.67 109.94 L5.21 108.49 L4.73 107.53 L4.73 106.09 L5.21 105.12 L6.67 104.64 L11.50 104.64 M4.73 95.49 L12.47 95.49 L13.92 95.98 L14.40 96.46 L14.88 97.42 L14.88 98.86 L14.40 99.83 M6.18 95.49 L5.21 96.46 L4.73 97.42 L4.73 98.86 L5.21 99.83 L6.18 100.79 L7.63 101.27 L8.60 101.27 L10.05 100.79 L11.02 99.83 L11.50 98.86 L11.50 97.42 L11.02 96.46 L10.05 95.49" fill="none" stroke="#000" stroke-width="1.0" stroke-linecap="butt" stroke-linejoin="round"/>
<path d="M170.93 44.19 L171.41 44.67 L171.89 44.19 L171.41 43.71 L170.93 44.19Z M237.65 44.19 L238.13 44.67 L238.62 44.19 L238.13 43.71 L237.65 44.19Z M243.45 68.69 L243.94 69.17 L244.42 68.69 L243.94 68.21 L243.45 68.69Z M262.31 68.69 L262.79 69.17 L263.28 68.69 L262.79 68.21 L262.31 68.69Z M36.81 379.54 L36.33 380.02 L36.81 380.50 L37.30 380.02 L36.81 379.54Z M36.81 290.04 L36.33 290.52 L36.81 291.00 L37.30 290.52 L36.81 290.04Z M36.81 195.04 L36.33 195.52 L36.81 196.00 L37.30 195.52 L36.81 195.04Z M36.81 100.04 L36.33 100.52 L36.81 101.00 L37.30 100.52 L36.81 100.04Z M36.81 9.34 L36.33 9.82 L36.81 10.30 L37.30 9.82 L36.81 9.34Z M226.57 410.89 L227.06 411.37 L227.54 410.89 L227.06 410.41 L226.57 410.89Z M284.59 410.89 L285.08 411.37 L285.56 410.89 L285.08 410.41 L284.59 410.89Z M1.35 251.98 L1.83 251.50 L1.35 251.02 L0.86 251.50 L1.35 251.98Z M1.35 114.27 L1.83 113.79 L1.35 113.31 L0.86 113.79 L1.35 114.27Z" fill="#000" stroke="#000" stroke-width="1.0" stroke-linejoin="round"/>
</svg>
</body></html>
